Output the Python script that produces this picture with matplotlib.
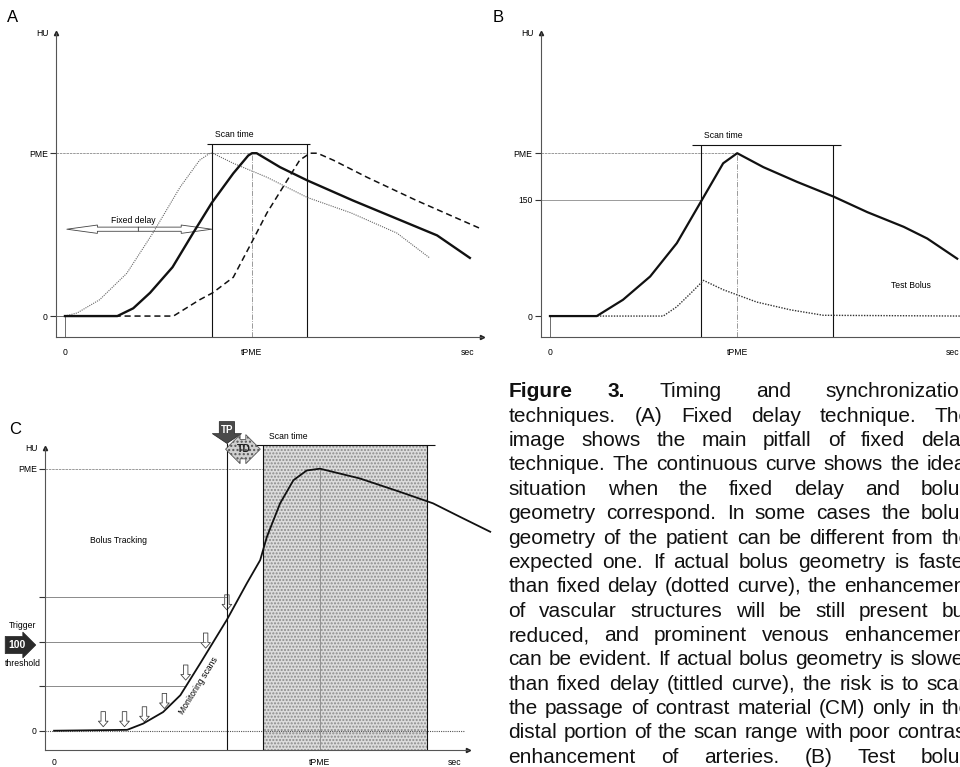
import numpy as np
import matplotlib.pyplot as plt
from matplotlib.patches import FancyArrowPatch

plt.rcParams['font.family'] = ['Liberation Sans', 'DejaVu Sans']

# ---- data (x in s, y in HU) ----
pme_ab = 210
pme_c = 295
t_pme = 20

a_solid_x = [0, 5.6, 7.3, 9.1, 11.5, 13.7, 15.7, 18.0, 19.6, 20.0, 20.5, 23.0, 25.9, 30.8, 35.8, 39.8, 43.3]
a_solid_y = [0, 0, 10, 30, 63, 107, 146, 184, 207, 210, 210, 192, 175, 149, 124, 104, 75]
a_fast_x = [0, 1.3, 3.7, 6.6, 9.4, 12.3, 14.4, 15.5, 15.8, 18.0, 21.6, 25.9, 30.6, 35.5, 39.0]
a_fast_y = [0, 4, 21, 55, 107, 166, 201, 210, 210, 197, 179, 153, 133, 107, 75]
a_slow_x = [0, 11.6, 14.4, 15.8, 18.0, 20.1, 21.6, 23.3, 25.1, 26.2, 27.0, 28.7, 32.3, 37.6, 44.4]
a_slow_y = [0, 0, 21, 30, 50, 98, 133, 166, 201, 210, 210, 201, 179, 149, 113]
a_delay = 15.7
a_scan = (15.7, 25.9)

b_solid_x = [0, 5.0, 7.8, 10.7, 13.55, 16.1, 18.5, 20.0, 22.8, 26.4, 30.3, 33.9, 37.8, 40.3, 43.5]
b_solid_y = [0, 0, 21, 51, 94, 147, 197, 210, 192, 173, 154, 134, 115, 100, 74]
b_test_x = [0, 12.1, 13.55, 15.0, 16.4, 18.5, 22.1, 25.7, 29.2, 44.0]
b_test_y = [0, 0, 12, 29, 46, 34, 18, 8, 1, 0]
b_scan = (16.1, 30.25)

c_solid_x = [0, 5.5, 6.7, 8.2, 9.5, 11.0, 13.0, 14.5, 15.5, 16.0, 17.0, 18.0, 19.0, 20.0, 23.0, 26.0, 28.5, 30.5, 32.8]
c_solid_y = [0, 1, 8, 21, 40, 76, 125, 166, 192, 218, 256, 282, 293, 295, 284, 269, 256, 241, 224]
c_mon_x = [3.7, 5.3, 6.8, 8.3, 9.9, 11.4, 13.0]
c_mon_y = [4.5, 4.5, 10, 25, 57, 93, 136]
c_levels = [50, 100, 150]
c_trigger = 13.0
c_scan = (15.74, 28.07)

caption = [
    "Figure 3. Timing and synchronization",
    "techniques. (A) Fixed delay technique. The",
    "image shows the main pitfall of fixed delay",
    "technique. The continuous curve shows the ideal",
    "situation when the fixed delay and bolus",
    "geometry correspond. In some cases the bolus",
    "geometry of the patient can be different from the",
    "expected one. If actual bolus geometry is faster",
    "than fixed delay (dotted curve), the enhancement",
    "of vascular structures will be still present but",
    "reduced, and prominent venous enhancement",
    "can be evident. If actual bolus geometry is slower",
    "than fixed delay (tittled curve), the risk is to scan",
    "the passage of contrast material (CM) only in the",
    "distal portion of the scan range with poor contrast",
    "enhancement of arteries. (B) Test bolus",
]

W, H = 960, 767
fig = plt.figure(figsize=(W / 100, H / 100), dpi=100)
FS = 6.2
GUIDE = '#8a8a8a'


def rect(x0, y0, x1, y1):
    return [x0 / W, 1 - y1 / H, (x1 - x0) / W, (y1 - y0) / H]


def frame(ax, xlim, ylim, yticks, ylabels, xticks, xarrow=True, xpad=8):
    ax.set_xlim(xlim)
    ax.set_ylim(ylim)
    ax.patch.set_alpha(0)
    for s in ['top', 'right']:
        ax.spines[s].set_visible(False)
    for s in ['left', 'bottom']:
        ax.spines[s].set_color('#555')
        ax.spines[s].set_linewidth(0.8)
    ax.plot(0, 1, '^', ms=3, color='#222', transform=ax.transAxes, clip_on=False)
    if xarrow:
        ax.plot(1, 0, '>', ms=3, color='#222', transform=ax.transAxes, clip_on=False)
    ax.annotate('HU', xy=(0, 1), xycoords='axes fraction', xytext=(-5, 0),
                textcoords='offset points', ha='right', va='center', fontsize=FS)
    ax.set_yticks(yticks, ylabels)
    ax.set_xticks(xticks, ['0', 'tPME', 'sec'])
    ax.tick_params(axis='y', length=4, width=0.8, pad=2, labelsize=FS, color='#333')
    ax.tick_params(axis='x', length=0, pad=xpad, labelsize=FS)


def arrow(ax, p0, p1, hl, hw, tw, fc='white', ec='#444', lw=0.6, **kw):
    p = FancyArrowPatch(p0, p1, arrowstyle=f'simple,head_length={hl},head_width={hw},tail_width={tw}',
                        mutation_scale=1, fc=fc, ec=ec, lw=lw, shrinkA=0, shrinkB=0,
                        clip_on=False, **kw)
    ax.add_patch(p)


# ---------------- panel A ----------------
axa = fig.add_axes(rect(56, 33, 482, 337))
ya0, ya1 = -27.0, 365
frame(axa, (-0.96, 44.6), (ya0, ya1), [0, pme_ab], ['0', 'PME'], [0, t_pme, 43.1])
axa.hlines(pme_ab, -0.96, a_scan[1], color=GUIDE, lw=0.6, ls=(0, (3, 1)))
axa.hlines(0, -0.96, 0, color='#555', lw=0.6)
axa.vlines(0, ya0, 0, color='#555', lw=0.6)
axa.vlines(t_pme, ya0, pme_ab, color=GUIDE, lw=0.6, ls='-.')
axa.vlines(a_scan, ya0, 222, color='#111', lw=0.8)
axa.hlines(222, a_scan[0] - 0.5, a_scan[1] + 0.3, color='#111', lw=0.8)
axa.text(18.1, 228, 'Scan time', fontsize=FS, ha='center', va='bottom')
axa.plot(a_fast_x, a_fast_y, color='#666', lw=0.8, ls=(0, (1, 1)))
axa.plot(a_slow_x, a_slow_y, color='#111', lw=1.1, ls=(0, (4, 2.5)))
axa.plot(a_solid_x, a_solid_y, color='#111', lw=1.7)
mid = a_delay / 2
arrow(axa, (mid, 112), (0.2, 112), 22, 6, 3)
arrow(axa, (mid, 112), (a_delay, 112), 22, 6, 3)
axa.text(7.3, 118, 'Fixed delay', fontsize=FS, ha='center', va='bottom')
fig.text(13 / W, 1 - 17 / H, 'A', fontsize=12, ha='center', va='center')

# ---------------- panel B ----------------
axb = fig.add_axes(rect(540.7, 33, 960, 337))
frame(axb, (-0.99, 43.8), (ya0, ya1), [0, 150, pme_ab], ['0', '150', 'PME'],
      [0, t_pme, 43.05], xarrow=False)
axb.hlines(pme_ab, -0.99, t_pme, color=GUIDE, lw=0.6, ls=(0, (3, 1)))
axb.hlines(150, -0.99, b_scan[0], color=GUIDE, lw=0.6)
axb.vlines(0, ya0, 0, color='#555', lw=0.6)
axb.vlines(t_pme, ya0, pme_ab, color=GUIDE, lw=0.6, ls='-.')
axb.vlines(b_scan, ya0, 221, color='#111', lw=0.8)
axb.hlines(221, 15.2, 31.1, color='#111', lw=0.8)
axb.text(18.5, 227, 'Scan time', fontsize=FS, ha='center', va='bottom')
axb.plot(b_test_x, b_test_y, color='#333', lw=1.0, ls=(0, (1, 1)))
axb.plot(b_solid_x, b_solid_y, color='#111', lw=1.6)
axb.text(38.6, 40, 'Test Bolus', fontsize=FS, ha='center', va='center')
fig.text(498 / W, 1 - 17 / H, 'B', fontsize=12, ha='center', va='center')

# ---------------- panel C ----------------
axc = fig.add_axes(rect(45, 448, 468, 750))
yc0, yc1 = -21.7, 318.3
frame(axc, (-0.68, 31.13), (yc0, yc1), [0] + c_levels + [pme_c], ['0', '', '', '', 'PME'],
      [0, t_pme, 30.15], xpad=5.5)
axc.fill_between(c_scan, yc0, 321.7, fc='#dcdcdc', ec='#8a8a8a', hatch='.....', lw=0,
                 zorder=0, clip_on=False)
axc.hlines(pme_c, -0.68, c_scan[0], color=GUIDE, lw=0.6, ls=(0, (3, 1)))
for lev, xe in zip(c_levels, [c_mon_x[4], c_mon_x[5], c_mon_x[6]]):
    axc.hlines(lev, -0.68, xe, color='#777', lw=0.6)
axc.hlines(0, -0.68, 30.9, color='#555', lw=0.8, ls=(0, (1, 1)))
axc.vlines(t_pme, yc0, pme_c, color=GUIDE, lw=0.6)
axc.vlines(c_trigger, yc0, 324, color='#111', lw=0.8, clip_on=False)
axc.vlines(c_scan, yc0, 321.7, color='#111', lw=0.8, clip_on=False)
axc.hlines(321.7, 14.98, 28.65, color='#111', lw=0.8, clip_on=False)
axc.text(17.6, 326, 'Scan time', fontsize=FS, ha='center', va='bottom')
axc.plot(c_solid_x, c_solid_y, color='#111', lw=1.3, clip_on=False)
for mx, my in zip(c_mon_x, c_mon_y):
    arrow(axc, (mx, my + 17), (mx, my), 4, 7, 3.2, lw=0.6)
axc.text(10.85, 51, 'Monitoring scans', fontsize=FS, rotation=58, ha='center', va='center')
axc.text(4.84, 214, 'Bolus Tracking', fontsize=FS, ha='center', va='center')
axc.text(-2.35, 119, 'Trigger', fontsize=FS, ha='center', va='center')
axc.text(-2.35, 76, 'threshold', fontsize=FS, ha='center', va='center')
axc.text(-2.75, 96.5, '100', fontsize=7.5, fontweight='bold', color='white', ha='center', va='center',
         bbox=dict(boxstyle='rarrow,pad=0.35', fc='#2a2a2a', ec='#2a2a2a', lw=0.5))
arrow(axc, (c_trigger, 348), (c_trigger, 323.5), 7, 21, 11, fc='#4a4a4a', ec='#222', lw=0.5)
axc.text(c_trigger, 339, 'TP', fontsize=7, fontweight='bold', color='white', ha='center', va='center')
axc.text(14.25, 317, 'TD', fontsize=7.5, fontweight='bold', color='#222', ha='center', va='center',
         bbox=dict(boxstyle='darrow,pad=0.45', fc='#d0d0d0', ec='#555', lw=0.6, hatch='....'))
fig.text(15 / W, 1 - 430 / H, 'C', fontsize=12, ha='center', va='center')

# ---------------- caption (justified) ----------------
cap_left, cap_right = 508.5, 971
cap_base0, cap_step = 397.3, 24.37
fig.canvas.draw()
rend = fig.canvas.get_renderer()
for i, line in enumerate(caption):
    words = line.split(' ')
    y = H - (cap_base0 + i * cap_step)
    texts = []
    for j, w in enumerate(words):
        bold = i == 0 and j < 2
        texts.append(fig.text(0, y, w, transform=None, fontsize=15, va='baseline', ha='left',
                              fontweight='bold' if bold else 'normal', color='#111'))
    widths = [t.get_window_extent(rend).width for t in texts]
    gap = (cap_right - cap_left - sum(widths)) / (len(words) - 1)
    x = cap_left
    for t, wd in zip(texts, widths):
        t.set_x(x)
        x += wd + gap

fig.savefig('out.png', dpi=100)
